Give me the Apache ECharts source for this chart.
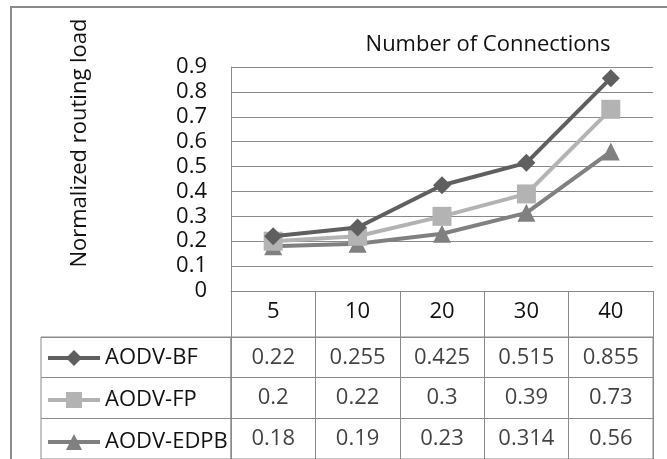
<!DOCTYPE html>
<html>
<head>
<meta charset="utf-8">
<script src="https://cdn.jsdelivr.net/npm/echarts@6/dist/echarts.min.js"></script>
<style>
html,body{margin:0;padding:0;background:#fff;}
#chart{width:667px;height:459px;}
</style>
</head>
<body>
<div id="chart"></div>
<script>
var categories = ['5', '10', '20', '30', '40'];
var seriesNames = ['AODV-BF', 'AODV-FP', 'AODV-EDPB'];
var aodvBF = [0.22, 0.255, 0.425, 0.515, 0.855];
var aodvFP = [0.2, 0.22, 0.3, 0.39, 0.73];
var aodvEDPB = [0.18, 0.19, 0.23, 0.314, 0.56];
var yTicks = { min: 0, max: 0.9, interval: 0.1 };
var titleText = 'Number of Connections';
var yTitle = 'Normalized routing load';

var FONT = 'Open Sans';
var FS = 22;
var GRIDC = '#8a8a8a';
var TXT = '#111';
var colors = ['#5f5f5f', '#b3b3b3', '#808080'];
var symbols = ['diamond', 'rect', 'triangle'];
var values = [aodvBF, aodvFP, aodvEDPB];

var lineSeries = seriesNames.map(function (name, i) {
  return {
    name: name,
    type: 'line',
    xAxisIndex: 0,
    yAxisIndex: 0,
    data: values[i],
    symbol: symbols[i],
    symbolSize: i === 1 ? 19 : 18,
    showSymbol: true,
    color: colors[i],
    lineStyle: { width: 4, color: colors[i] },
    itemStyle: { color: colors[i] },
    z: 10 - i
  };
});

var cellData = [];
values.forEach(function (arr, r) {
  arr.forEach(function (v, c) { cellData.push([c, r, v]); });
});

var rowTop = 337, rowH = 42;
var legends = seriesNames.map(function (name, i) {
  return {
    orient: 'vertical',
    left: 46,
    top: rowTop + rowH * i + rowH / 2 - 11,
    itemWidth: 52,
    itemHeight: 20,
    itemGap: 0,
    padding: 0,
    data: [name],
    lineStyle: { width: 4 },
    textStyle: { fontFamily: FONT, fontSize: FS, color: TXT, lineHeight: 22 }
  };
});

var chart = echarts.init(document.getElementById('chart'));
chart.setOption({
  animation: false,
  backgroundColor: '#fff',
  textStyle: { fontFamily: FONT },
  grid: [
    { left: 231, right: 14, top: 67, height: 224 },
    { left: 231, right: 14, top: rowTop, height: rowH * 3, show: true, borderColor: GRIDC, borderWidth: 1 },
    { left: 41, width: 190, top: rowTop, height: rowH * 3, show: true, borderColor: GRIDC, borderWidth: 1 }
  ],
  legend: legends,
  xAxis: [
    {
      gridIndex: 0, type: 'category', data: categories, boundaryGap: true,
      axisLine: { show: true, lineStyle: { color: GRIDC, width: 1 } },
      axisTick: { show: true, length: 46, lineStyle: { color: GRIDC } },
      axisLabel: { fontFamily: FONT, fontSize: FS, color: TXT, margin: 10 },
      splitLine: { show: false }
    },
    {
      gridIndex: 1, type: 'category', data: categories, boundaryGap: true,
      axisLine: { show: false }, axisTick: { show: false }, axisLabel: { show: false },
      splitLine: { show: true, lineStyle: { color: GRIDC } }
    },
    {
      gridIndex: 2, type: 'value', show: false
    }
  ],
  yAxis: [
    {
      gridIndex: 0, type: 'value', min: yTicks.min, max: yTicks.max, interval: yTicks.interval,
      axisLine: { show: true, lineStyle: { color: GRIDC, width: 1 } },
      axisTick: { show: false },
      axisLabel: { fontFamily: FONT, fontSize: FS, color: TXT, margin: 24 },
      splitLine: { show: true, lineStyle: { color: GRIDC, width: 1 } }
    },
    {
      gridIndex: 1, type: 'category', data: seriesNames, inverse: true,
      axisLine: { show: false }, axisTick: { show: false }, axisLabel: { show: false },
      splitLine: { show: true, lineStyle: { color: GRIDC } }
    },
    {
      gridIndex: 2, type: 'category', data: seriesNames, inverse: true,
      axisLine: { show: false }, axisTick: { show: false }, axisLabel: { show: false },
      splitLine: { show: true, lineStyle: { color: GRIDC } }
    }
  ],
  graphic: [
    { type: 'rect', silent: true, shape: { x: 11, y: 7, width: 700, height: 520 },
      style: { fill: 'none', stroke: GRIDC, lineWidth: 2 }, z: -1 },
    { type: 'text', x: 488, y: 45, silent: true,
      style: { text: titleText, font: FS + 'px "Open Sans"', fill: TXT, textAlign: 'center', textVerticalAlign: 'middle' } },
    { type: 'text', x: 80, y: 143, rotation: Math.PI / 2, silent: true,
      style: { text: yTitle, font: FS + 'px "Open Sans"', fill: TXT, textAlign: 'center', textVerticalAlign: 'middle' } }
  ],
  series: lineSeries.concat([
    {
      type: 'scatter',
      xAxisIndex: 1,
      yAxisIndex: 1,
      data: cellData,
      symbolSize: 1,
      itemStyle: { color: 'rgba(0,0,0,0)' },
      label: {
        show: true, position: 'inside',
        fontFamily: FONT, fontSize: FS, color: TXT,
        formatter: function (p) { return String(p.value[2]); }
      },
      silent: true
    }
  ])
});
</script>
</body>
</html>
